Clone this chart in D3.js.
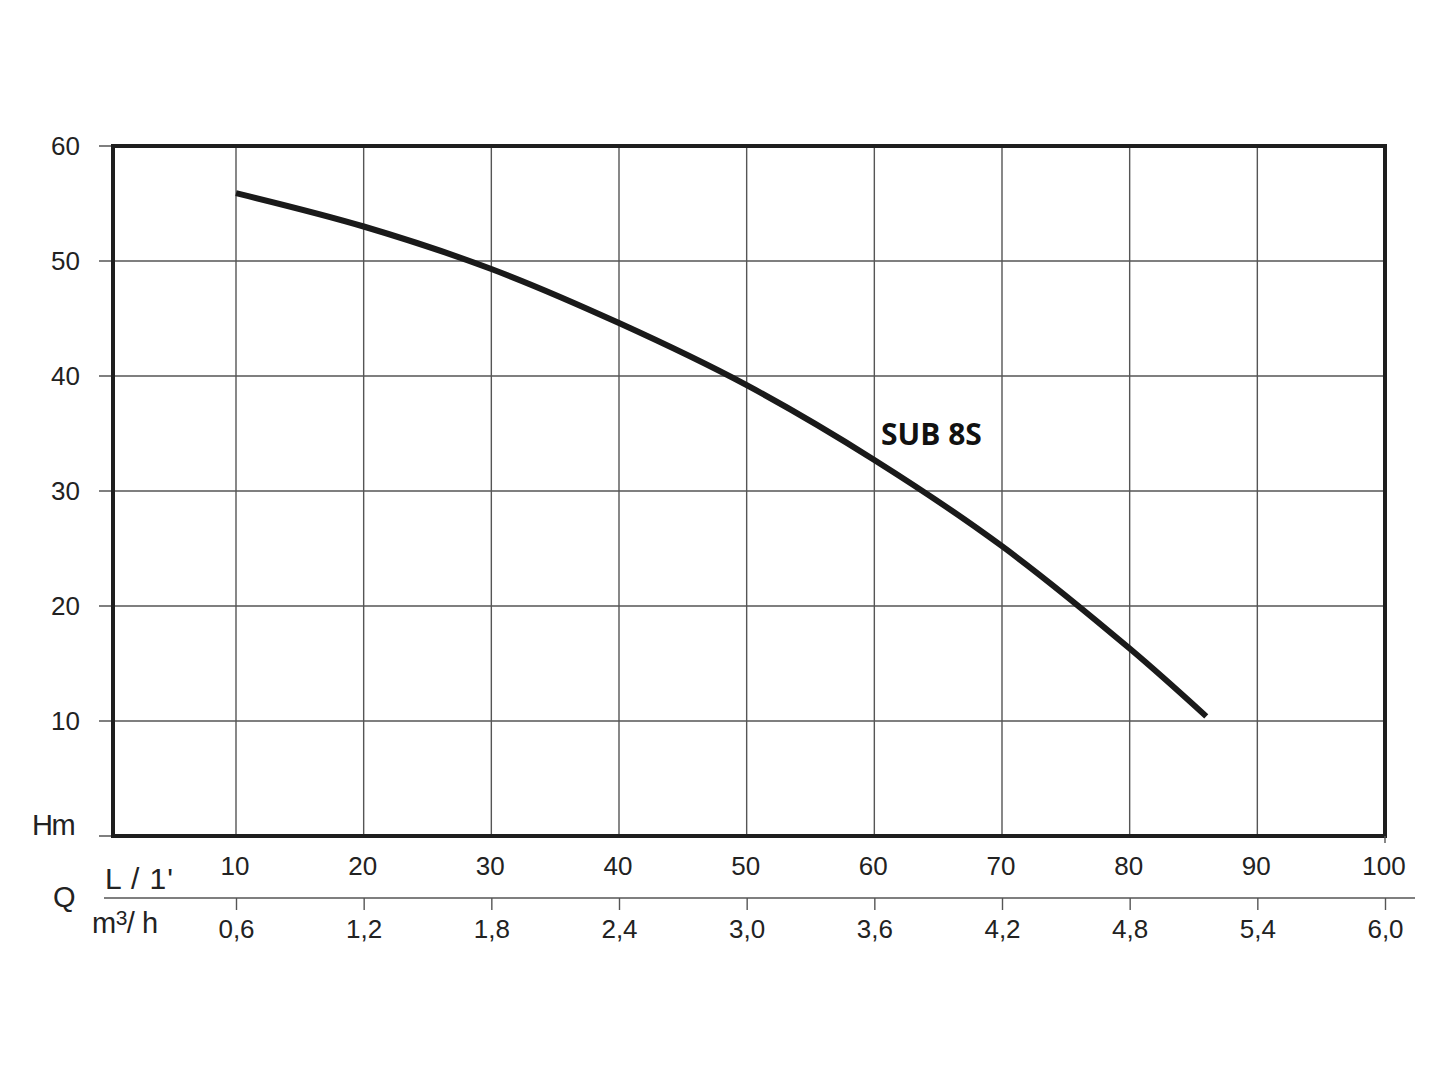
<!DOCTYPE html>
<html><head><meta charset="utf-8">
<script src="https://cdn.jsdelivr.net/npm/d3@7"></script>
<style>body{margin:0;background:#fff}svg{display:block}</style>
</head><body>
<svg id="c" width="1445" height="1084"></svg>
<script>
const flowLmin = [10, 20, 30, 40, 50, 60, 70, 80, 86];
const headM = [55.9, 53.0, 49.3, 44.6, 39.2, 32.7, 25.2, 16.3, 10.4];
const xTicksL = [10, 20, 30, 40, 50, 60, 70, 80, 90, 100];
const xTicksQ = ["0,6", "1,2", "1,8", "2,4", "3,0", "3,6", "4,2", "4,8", "5,4", "6,0"];
const yTicks = [10, 20, 30, 40, 50, 60];
const curveLabel = "SUB 8S";

const svg = d3.select("#c");
const x = d3.scaleLinear().domain([10, 100]).range([236, 1385]);
const y = d3.scaleLinear().domain([0, 60]).range([836, 146]);
const frameLeft = 113, tickLeft = 99;
const txt = "#222", gridC = "#555";
const font = "'Liberation Sans', Arial, sans-serif";

// grid horizontals
svg.append("g").selectAll("line").data([0, ...yTicks]).join("line")
  .attr("x1", tickLeft).attr("x2", x(100)).attr("y1", d => y(d)).attr("y2", d => y(d))
  .attr("stroke", gridC).attr("stroke-width", 1.4);
// grid verticals
svg.append("g").selectAll("line").data(xTicksL.slice(0, -1)).join("line")
  .attr("x1", d => x(d)).attr("x2", d => x(d)).attr("y1", y(60)).attr("y2", y(0))
  .attr("stroke", gridC).attr("stroke-width", 1.4);
// frame
svg.append("rect").attr("x", frameLeft).attr("y", y(60)).attr("width", x(100) - frameLeft)
  .attr("height", y(0) - y(60)).attr("fill", "none").attr("stroke", "#1e1e1e").attr("stroke-width", 4);
svg.append("line").attr("x1", x(100)).attr("x2", x(100)).attr("y1", y(0)).attr("y2", y(0) + 7)
  .attr("stroke", gridC).attr("stroke-width", 1.4);

// y labels
svg.append("g").selectAll("text").data(yTicks).join("text")
  .attr("x", 80).attr("y", d => y(d) + 9).attr("text-anchor", "end")
  .attr("font-family", font).attr("font-size", 26).attr("fill", txt).text(d => d);
svg.append("text").attr("x", 32).attr("y", 835).attr("font-family", font).attr("font-size", 29)
  .attr("fill", txt).attr("letter-spacing", -1.5).text("Hm");

// top x labels (L/min)
svg.append("g").selectAll("text").data(xTicksL).join("text")
  .attr("x", d => x(d) - 1).attr("y", 875).attr("text-anchor", "middle")
  .attr("font-family", font).attr("font-size", 26).attr("fill", txt).text(d => d);

// second axis (m3/h)
const q = d3.scaleLinear().domain([0.6, 6.0]).range([x(10), x(100)]);
const qAxis = d3.axisBottom(q).tickValues(xTicksQ.map(s => +s.replace(",", ".")))
  .tickFormat((d, i) => xTicksQ[i]).tickSizeOuter(0).tickSizeInner(12).tickPadding(10);
const qg = svg.append("g").attr("transform", "translate(0,898)").call(qAxis);
qg.select(".domain").remove();
qg.selectAll(".tick line").attr("stroke", gridC).attr("stroke-width", 1.4);
qg.selectAll(".tick text").attr("font-family", font).attr("font-size", 26).attr("fill", txt);
svg.append("line").attr("x1", 104).attr("x2", 1415).attr("y1", 898).attr("y2", 898)
  .attr("stroke", gridC).attr("stroke-width", 1.4);

svg.append("text").attr("x", 105).attr("y", 889).attr("font-family", font).attr("font-size", 30)
  .attr("fill", txt).attr("letter-spacing", 1).text("L / 1'");
svg.append("text").attr("x", 53).attr("y", 907).attr("font-family", font).attr("font-size", 29)
  .attr("fill", txt).text("Q");
const mh = svg.append("text").attr("x", 92).attr("y", 933).attr("font-family", font).attr("font-size", 29)
  .attr("fill", txt).attr("letter-spacing", -0.5);
mh.append("tspan").text("m");
mh.append("tspan").attr("font-size", 21).attr("dy", -8).text("3");
mh.append("tspan").attr("dy", 8).text("/ h");

// curve
const pts = flowLmin.map((v, i) => [v, headM[i]]);
svg.append("path").datum(pts)
  .attr("d", d3.line().x(d => x(d[0])).y(d => y(d[1])).curve(d3.curveCatmullRom.alpha(0.5)))
  .attr("fill", "none").attr("stroke", "#1a1a1a").attr("stroke-width", 6).attr("stroke-linecap", "butt");

svg.append("text").attr("x", 881).attr("y", 445).attr("font-family", "'Open Sans', sans-serif")
  .attr("font-weight", 700).attr("font-size", 30).attr("fill", "#111").text(curveLabel);
</script>
</body></html>
